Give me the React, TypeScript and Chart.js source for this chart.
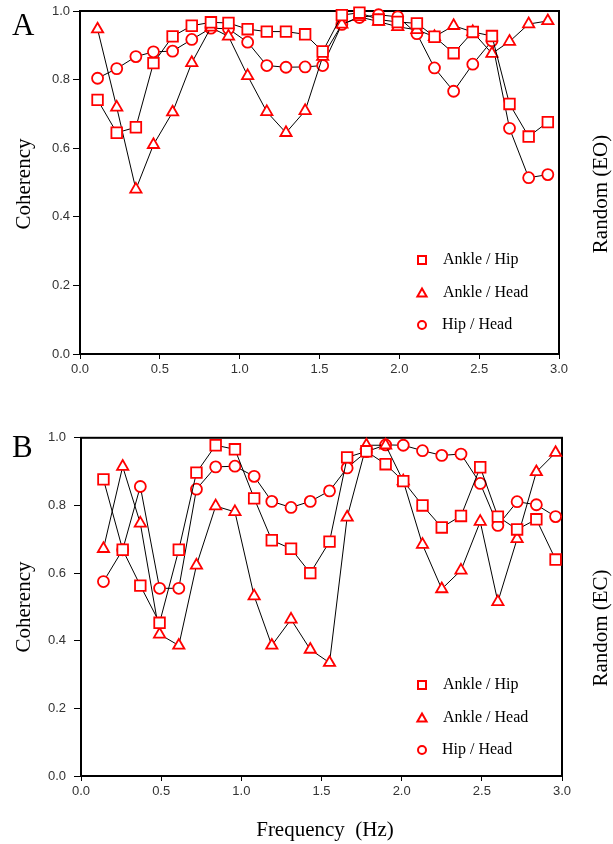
import React, { useEffect, useRef } from 'react';
import { Chart, registerables } from 'chart.js';

Chart.register(...registerables);

// ---------- data ----------
const freqA = [0.11, 0.23, 0.35, 0.46, 0.58, 0.70, 0.82, 0.93, 1.05, 1.17, 1.29, 1.41, 1.52, 1.64, 1.75, 1.87, 1.99, 2.11, 2.22, 2.34, 2.46, 2.58, 2.69, 2.81, 2.93];
const freqB = [0.14, 0.26, 0.37, 0.49, 0.61, 0.72, 0.84, 0.96, 1.08, 1.19, 1.31, 1.43, 1.55, 1.66, 1.78, 1.90, 2.01, 2.13, 2.25, 2.37, 2.49, 2.60, 2.72, 2.84, 2.96];

const ankleHipA = [0.741, 0.645, 0.661, 0.848, 0.926, 0.957, 0.967, 0.965, 0.947, 0.940, 0.940, 0.932, 0.882, 0.988, 0.995, 0.975, 0.968, 0.964, 0.925, 0.877, 0.939, 0.927, 0.729, 0.634, 0.676];
const ankleHeadA = [0.947, 0.719, 0.480, 0.610, 0.705, 0.849, 0.952, 0.926, 0.811, 0.706, 0.645, 0.709, 0.867, 0.961, 0.983, 0.969, 0.954, 0.945, 0.925, 0.957, 0.939, 0.876, 0.911, 0.962, 0.971];
const hipHeadA = [0.804, 0.832, 0.867, 0.881, 0.883, 0.917, 0.950, 0.948, 0.909, 0.841, 0.836, 0.837, 0.841, 0.961, 0.981, 0.989, 0.983, 0.934, 0.834, 0.766, 0.845, 0.913, 0.658, 0.514, 0.523];

const ankleHipB = [0.877, 0.669, 0.563, 0.453, 0.669, 0.897, 0.978, 0.966, 0.821, 0.697, 0.672, 0.600, 0.693, 0.942, 0.960, 0.922, 0.872, 0.800, 0.735, 0.769, 0.913, 0.767, 0.729, 0.759, 0.640];
const ankleHeadB = [0.672, 0.915, 0.747, 0.419, 0.386, 0.623, 0.798, 0.781, 0.532, 0.386, 0.463, 0.374, 0.335, 0.765, 0.978, 0.978, 0.872, 0.684, 0.553, 0.608, 0.752, 0.515, 0.701, 0.899, 0.956];
const hipHeadB = [0.575, 0.669, 0.856, 0.555, 0.555, 0.848, 0.914, 0.916, 0.886, 0.812, 0.794, 0.812, 0.843, 0.911, 0.959, 0.979, 0.978, 0.962, 0.948, 0.952, 0.865, 0.741, 0.811, 0.802, 0.767];

const seriesLabels = ['Ankle / Hip', 'Ankle / Head', 'Hip / Head'];
const yTicks = [0.0, 0.2, 0.4, 0.6, 0.8, 1.0];
const xTicks = [0.0, 0.5, 1.0, 1.5, 2.0, 2.5, 3.0];
const panelLetters = ['A', 'B'];
const sideLabels = ['Random (EO)', 'Random (EC)'];
const yTitle = 'Coherency';
const xTitle = 'Frequency  (Hz)';

// ---------- styles ----------
const RED = '#ff0000';
const SERIF = '"Liberation Serif", "Times New Roman", serif';
const SANS = '"Liberation Sans", Arial, sans-serif';
const styles = ['rect', 'triangle', 'circle'];
const radii = [7.5, 6.5, 5.5];

function drawMarker(ctx: CanvasRenderingContext2D, style: string, x: number, y: number) {
  ctx.beginPath();
  if (style === 'rect') {
    ctx.rect(x - 4, y - 4, 8, 8);
  } else if (style === 'triangle') {
    ctx.moveTo(x, y - 4.5);
    ctx.lineTo(x + 4.6, y + 3.5);
    ctx.lineTo(x - 4.6, y + 3.5);
    ctx.closePath();
  } else {
    ctx.arc(x, y, 4, 0, Math.PI * 2);
  }
  ctx.stroke();
}

const deco = {
  id: 'deco',
  beforeDatasetsDraw(chart: any) {
    const { ctx, chartArea: a } = chart;
    ctx.save();
    ctx.strokeStyle = '#000';
    ctx.lineWidth = 2;
    ctx.strokeRect(a.left, a.top, a.right - a.left, a.bottom - a.top);
    ctx.restore();
  },
  afterDraw(chart: any, _args: any, o: any) {
    const { ctx } = chart;
    ctx.save();
    ctx.fillStyle = '#000';
    // panel letter
    ctx.font = `31px ${SERIF}`;
    ctx.textAlign = 'left';
    ctx.textBaseline = 'alphabetic';
    ctx.fillText(o.letter, 12, 35);
    // y title
    ctx.font = `21px ${SERIF}`;
    ctx.textAlign = 'center';
    ctx.textBaseline = 'middle';
    ctx.save();
    ctx.translate(24, o.cohY);
    ctx.rotate(-Math.PI / 2);
    ctx.fillText(yTitle, 0, 0);
    ctx.restore();
    // side label
    ctx.save();
    ctx.translate(601, o.sideY);
    ctx.rotate(-Math.PI / 2);
    ctx.fillText(o.side, 0, 0);
    ctx.restore();
    // x title
    if (o.showXTitle) {
      ctx.fillText(xTitle, 325, o.xTitleY);
    }
    // legend
    ctx.strokeStyle = RED;
    ctx.lineWidth = 2;
    ctx.font = `16px ${SERIF}`;
    ctx.textAlign = 'left';
    ctx.textBaseline = 'middle';
    o.legendYs.forEach((y: number, i: number) => {
      drawMarker(ctx, styles[i], 422, y);
      ctx.fillText(seriesLabels[i], i === 2 ? 442 : 443, y);
    });
    ctx.restore();
  },
};

function makeChart(canvas: HTMLCanvasElement, freq: number[], series: number[][], p: any) {
  return new Chart(canvas, {
    type: 'line',
    data: {
      datasets: series.map((vals, i) => ({
        label: seriesLabels[i],
        data: vals.map((v, j) => ({ x: freq[j], y: v })),
        showLine: true,
        borderColor: '#000',
        borderWidth: 1,
        pointStyle: styles[i] as any,
        pointRadius: radii[i],
        pointBorderColor: RED,
        pointBorderWidth: 1.8,
        pointBackgroundColor: '#fff',
        tension: 0,
        clip: false as any,
      })),
    },
    options: {
      animation: false,
      responsive: false,
      layout: { padding: { top: p.top, right: p.right, left: 0, bottom: 0 } },
      plugins: {
        legend: { display: false },
        tooltip: { enabled: false },
        deco: p.deco,
      } as any,
      scales: {
        x: {
          type: 'linear',
          min: 0,
          max: 3,
          afterBuildTicks: (s: any) => { s.ticks = xTicks.map((v) => ({ value: v })); },
          afterFit: (s: any) => { s.height = p.xH; },
          ticks: {
            callback: (v: any) => Number(v).toFixed(1),
            font: { family: SANS, size: 13 },
            color: '#333',
            padding: 3,
            maxRotation: 0,
            autoSkip: false,
          },
          grid: { drawOnChartArea: false, drawTicks: true, tickLength: 5, color: '#000', lineWidth: 1 },
          border: { display: true, color: '#000', width: 2 },
        },
        y: {
          type: 'linear',
          min: 0,
          max: 1,
          afterBuildTicks: (s: any) => { s.ticks = yTicks.map((v) => ({ value: v })); },
          afterFit: (s: any) => { s.width = p.yW; },
          ticks: {
            callback: (v: any) => Number(v).toFixed(1),
            font: { family: SANS, size: 13 },
            color: '#333',
            padding: p.yPad,
            autoSkip: false,
          },
          grid: { drawOnChartArea: false, drawTicks: true, tickLength: 7, color: '#000', lineWidth: 1 },
          border: { display: true, color: '#000', width: 2 },
        },
      },
    },
    plugins: [deco],
  });
}

export default function App() {
  const refA = useRef<HTMLCanvasElement>(null);
  const refB = useRef<HTMLCanvasElement>(null);

  useEffect(() => {
    const a = makeChart(refA.current!, freqA, [ankleHipA, ankleHeadA, hipHeadA], {
      top: 11, right: 54, xH: 68, yW: 80, yPad: 3,
      deco: { letter: panelLetters[0], side: sideLabels[0], cohY: 184, sideY: 194, legendYs: [260, 293, 325], showXTitle: false },
    });
    const b = makeChart(refB.current!, freqB, [ankleHipB, ankleHeadB, hipHeadB], {
      top: 10, right: 51, xH: 68, yW: 81, yPad: 8,
      deco: { letter: panelLetters[1], side: sideLabels[1], cohY: 185, sideY: 206, legendYs: [263, 296, 328], showXTitle: true, xTitleY: 408 },
    });
    return () => { a.destroy(); b.destroy(); };
  }, []);

  return (
    <div style={{ position: 'absolute', left: 0, top: 0, width: 613, height: 844, background: '#fff' }}>
      <canvas ref={refA} width={613} height={422} style={{ position: 'absolute', left: 0, top: 0, display: 'block' }} />
      <canvas ref={refB} width={613} height={422} style={{ position: 'absolute', left: 0, top: 422, display: 'block' }} />
    </div>
  );
}
